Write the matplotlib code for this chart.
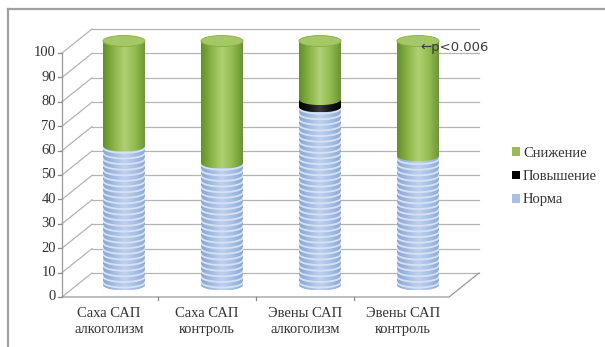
import numpy as np
import matplotlib
matplotlib.use('Agg')
import matplotlib.pyplot as plt
from matplotlib.patches import Polygon, Ellipse, Patch
from matplotlib.colors import LinearSegmentedColormap

# data (percent)
categories = ['Саха САП\nалкоголизм', 'Саха САП\nконтроль',
              'Эвены САП\nалкоголизм', 'Эвены САП\nконтроль']
norma = [57, 50, 73, 53]
povyshenie = [0, 0, 3, 0]
snizhenie = [43, 50, 24, 47]
series_names = ['Снижение', 'Повышение', 'Норма']
y_ticks = list(range(0, 101, 10))
note = '\u2190p<0.006'

plt.rcParams['font.family'] = ['Liberation Serif', 'DejaVu Serif']

W_PX, H_PX = 605, 347
fig = plt.figure(figsize=(W_PX / 100, H_PX / 100), dpi=100)
ax = fig.add_axes([0, 0, 1, 1])
ax.set_axis_off()

# pixel geometry of the pseudo 3d box (middle depth plane)
X0, SX = 124, 98.0      # px of category 0, px per category
Y0, SY = 285, 2.44      # px of value 0, px per percent
DX, DY = 15 / SX, 12 / SY   # half depth of the box
XL, XR = (77 - X0) / SX, (464 - X0) / SX
W = 42 / SX             # cylinder width
EH = 11 / SY            # ellipse height

grid_c = '#b4b4b4'
for v in y_ticks:
    ax.plot([XL + DX, XR + DX], [v + DY, v + DY], color=grid_c, lw=0.9, zorder=1)
    ax.plot([XL - DX, XL + DX], [v - DY, v + DY], color=grid_c, lw=0.9, zorder=1)
    ax.plot([XL - DX - 4 / SX, XL - DX], [v - DY, v - DY], color='#888888', lw=0.9, zorder=1)
    ax.text(XL - DX - 6 / SX, v - DY, str(v), ha='right', va='center',
            fontsize=10.5, color='#333333')
# floor and front axis
ax.plot([XL - DX, XR - DX, XR + DX], [-DY, -DY, DY], color='#999999', lw=0.9, zorder=1)
ax.plot([XL - DX, XL - DX], [-DY, 100 - DY], color='#999999', lw=0.9, zorder=1)
for i in range(len(categories) - 1):
    ax.plot([i + 0.5 - DX] * 2, [-DY, -DY - 3 / SY], color='#888888', lw=0.9, zorder=1)

for i, lab in enumerate(categories):
    ax.text(i - DX, -DY - 10 / SY, lab, ha='center', va='top', fontsize=10.5,
            color='#333333', linespacing=1.3)

cmaps = {
    'Снижение': LinearSegmentedColormap.from_list(
        'g', ['#62902a', '#8ab448', '#b0d172', '#93bb52', '#6a962e']),
    'Повышение': LinearSegmentedColormap.from_list(
        'k', ['#000000', '#151515', '#3a3a3a', '#151515', '#000000']),
    'Норма': LinearSegmentedColormap.from_list(
        'b', ['#8aa6d4', '#a3bce2', '#bfd1ee', '#a7c0e5', '#8ca8d6']),
}
legend_colors = {'Снижение': '#9bbb59', 'Повышение': '#000000', 'Норма': '#a7c0e6'}
top_color = '#a4c865'
grad = np.linspace(0, 1, 64).reshape(1, -1)
t = np.linspace(np.pi, 2 * np.pi, 40)

for i in range(len(categories)):
    segs = [('Норма', norma[i]), ('Повышение', povyshenie[i]), ('Снижение', snizhenie[i])]
    base = 0
    z = 2
    for name, val in segs:
        if val <= 0:
            continue
        v0, v1 = base, base + val
        pts = list(zip(i + W / 2 * np.cos(t), v0 + EH / 2 * np.sin(t)))
        pts += [(i + W / 2, v1), (i - W / 2, v1)]
        poly = Polygon(pts, closed=True, facecolor='none', edgecolor='none', zorder=z)
        ax.add_patch(poly)
        im = ax.imshow(grad, extent=[i - W / 2, i + W / 2, v0 - EH / 2, v1],
                       cmap=cmaps[name], aspect='auto', interpolation='bicubic', zorder=z)
        im.set_clip_path(poly)
        if name == 'Норма':
            for yy in np.arange(v0 + 1.2, v1 + 1.5, 2.3):
                ln, = ax.plot(i + W / 2 * np.cos(t), yy + EH / 2 * np.sin(t),
                              color='#d6e2f4', lw=1.3, zorder=z + 0.1)
                ln.set_clip_path(poly)
        base = v1
        z += 1
    ax.add_patch(Ellipse((i, base), W, EH, facecolor=top_color, edgecolor='#86ad45',
                         lw=0.6, zorder=z + 1))

ax.text((420 - X0) / SX, (Y0 - 47) / SY, note, ha='left', va='center',
        fontsize=9.5, family='DejaVu Sans', color='#3a3a3a', zorder=10)

handles = [Patch(facecolor=legend_colors[n], edgecolor='none') for n in series_names]
ax.legend(handles, series_names, loc='upper left',
          bbox_to_anchor=(512 / W_PX, 1 - 147 / H_PX), bbox_transform=fig.transFigure,
          frameon=False, handlelength=0.55, handleheight=0.55, handletextpad=0.2,
          labelspacing=0.7, borderpad=0, borderaxespad=0,
          prop={'family': 'Liberation Serif', 'size': 10.5}, labelcolor='#333333')

# thin frame at the top and left like the screenshot
fig.add_artist(plt.Line2D([8 / W_PX, 8 / W_PX], [0, 1 - 9 / H_PX],
                          transform=fig.transFigure, color='#a0a0a0', lw=1.6))
fig.add_artist(plt.Line2D([8 / W_PX, 1], [1 - 9 / H_PX, 1 - 9 / H_PX],
                          transform=fig.transFigure, color='#a0a0a0', lw=1.6))

ax.set_xlim(-X0 / SX, (W_PX - X0) / SX)
ax.set_ylim((Y0 - H_PX) / SY, Y0 / SY)

fig.savefig('out.png', dpi=100)
